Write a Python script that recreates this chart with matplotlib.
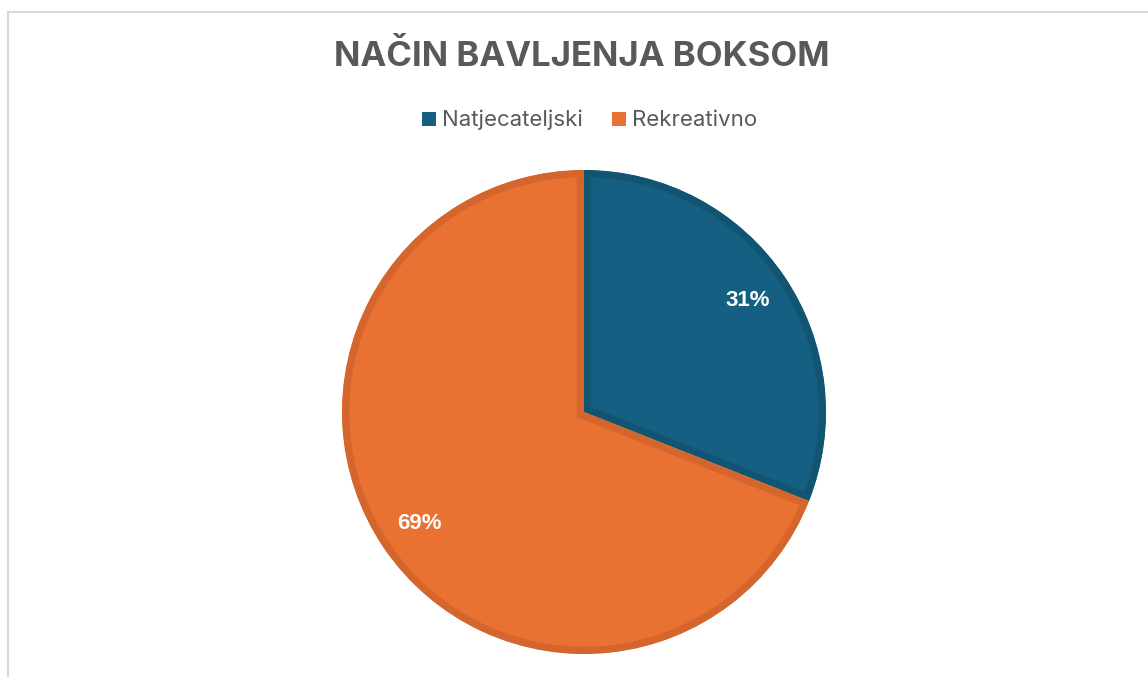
import matplotlib
matplotlib.use("Agg")
import matplotlib.pyplot as plt
from matplotlib.lines import Line2D
from matplotlib.patches import Rectangle

categories = ["Natjecateljski", "Rekreativno"]
values = [31, 69]
fill_colors = ["#156082", "#E97132"]
edge_colors = ["#125573", "#d4662d"]
title = "NAČIN BAVLJENJA BOKSOM"

W, H = 1148, 677
fig = plt.figure(figsize=(W / 100, H / 100), dpi=100)
fig.patch.set_facecolor("white")
ax = fig.add_axes([0, 0, 1, 1])

cx, cy, r = 584, H - 412, 242
wedges, texts, autotexts = ax.pie(
    values, colors=fill_colors, startangle=90, counterclock=False,
    center=(cx, cy), radius=r, autopct="%1.0f%%", pctdistance=0.82,
    wedgeprops=dict(linewidth=10.5, joinstyle="miter"),
    textprops=dict(color="white", fontsize=16, fontweight="bold",
                   family=["Liberation Sans", "DejaVu Sans"]),
)
for w, ec in zip(wedges, edge_colors):
    w.set_edgecolor(ec)
    w.set_clip_on(True)
    w.set_clip_path(w)

ax.set_xlim(0, W)
ax.set_ylim(0, H)
ax.set_aspect("equal")
ax.axis("off")

# frame lines
fig.add_artist(Line2D([7.5 / W, 7.5 / W], [0, 1 - 11.5 / H], color="#d9d9d9", lw=1.5, transform=fig.transFigure))
fig.add_artist(Line2D([7.5 / W, 1], [1 - 11.5 / H, 1 - 11.5 / H], color="#d9d9d9", lw=1.5, transform=fig.transFigure))

# title
ax.text(582, H - 57, title, ha="center", va="center", fontsize=25, fontweight="bold",
        color="#595959", family=["Inter", "DejaVu Sans"])

# legend
leg_y = H - 119
for (x0, xt, lab, col) in [(422, 442, categories[0], fill_colors[0]), (612, 632, categories[1], fill_colors[1])]:
    ax.add_patch(Rectangle((x0, leg_y - 7), 14, 14, facecolor=col, edgecolor="none"))
    ax.text(xt, leg_y - 1, lab, ha="left", va="center", fontsize=16, color="#595959",
            family=["Inter", "DejaVu Sans"])

fig.savefig("out.png", dpi=100, facecolor="white")
